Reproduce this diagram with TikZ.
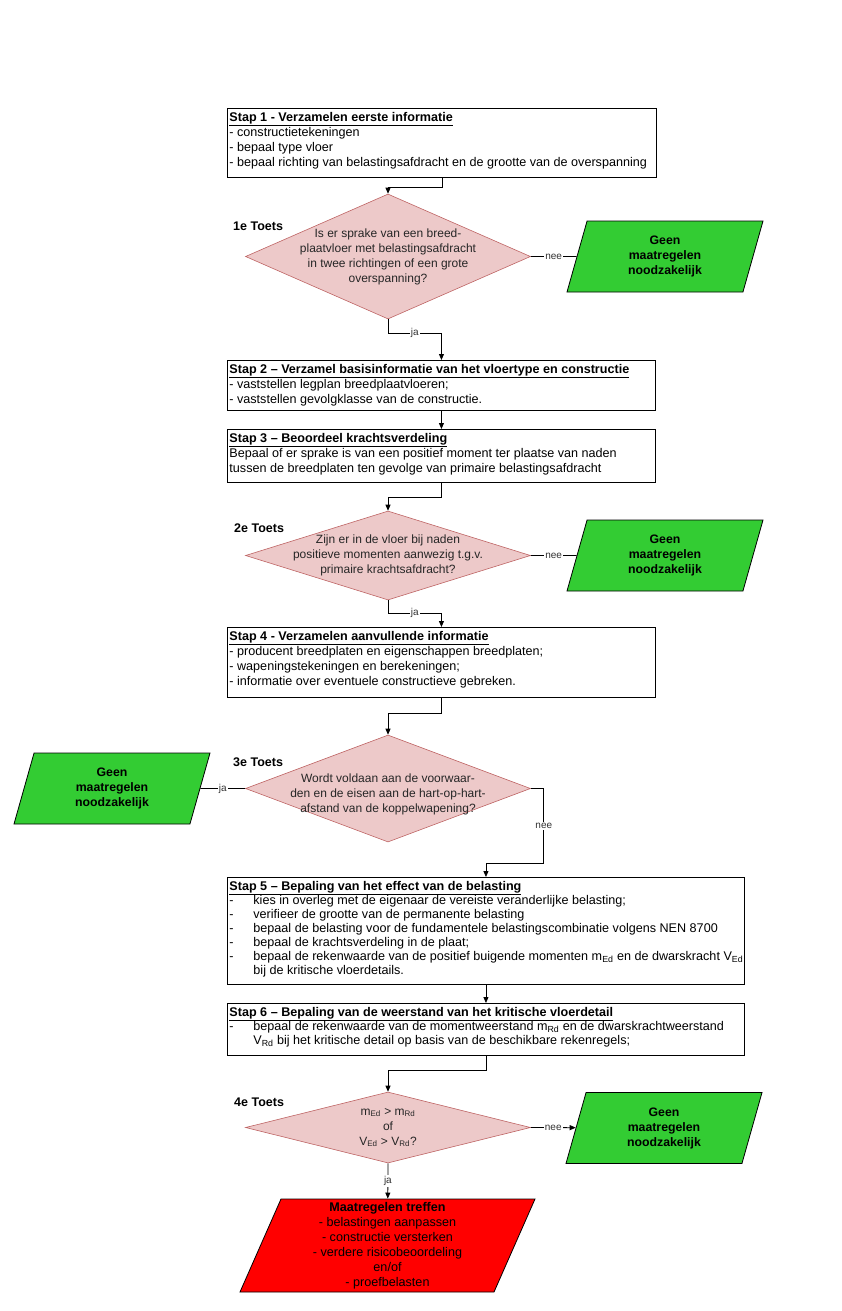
\documentclass[tikz,border=0pt]{standalone}
\usepackage{fontspec}
\setmainfont{Liberation Sans}
\usetikzlibrary{shapes.geometric,arrows.meta}

\definecolor{toetsvul}{RGB}{237,201,201}
\definecolor{toetsrand}{RGB}{190,100,100}
\definecolor{groen}{RGB}{51,204,51}
\definecolor{rood}{RGB}{255,0,0}

\newcommand\tekst{\fontsize{12.6}{15}\selectfont}
\newcommand\kop[1]{\underline{\textbf{#1}}}
\newcommand\streep[1]{\par\hangindent=24pt\hangafter=1\makebox[24pt][l]{-}#1}
\newcommand\inhoud[3]{\begin{minipage}[t][#2pt][t]{#1pt}\raggedright #3\end{minipage}}

\begin{document}
\begin{tikzpicture}[x=1pt,y=-1pt,
  stap/.style={draw, line width=0.9pt, anchor=north west, inner xsep=2pt, inner ysep=4pt, font=\tekst},
  toets/.style={diamond, draw=toetsrand, line width=0.6pt, fill=toetsvul, minimum width=285, minimum height=#1, inner sep=0pt},
  toetstekst/.style={align=center, font=\fontsize{12}{15}\selectfont, text=black!85},
  geen/.style={trapezium, trapezium left angle=64, trapezium right angle=116, trapezium stretches body,
    draw, line width=0.8pt, fill=groen, minimum width=196, minimum height=71, inner sep=0pt,
    align=center, font=\fontsize{12.3}{15}\selectfont\bfseries},
  naam/.style={anchor=west, inner sep=0pt, font=\fontsize{12.5}{14}\selectfont\bfseries},
  keuze/.style={fill=white, inner sep=1pt, font=\fontsize{10}{11}\selectfont, text=black!80},
  pijl/.style={-{Triangle[length=6pt,width=5pt]}, line width=0.8pt},
  lijn/.style={line width=0.8pt}]
\useasboundingbox (0,0) rectangle (841,1311);

% stappen
\node[stap] (stap1) at (227,108) {\inhoud{425}{61}{\kop{Stap 1 - Verzamelen eerste informatie}\\
  - constructietekeningen\\
  - bepaal type vloer\\
  - bepaal richting van belastingsafdracht en de grootte van de overspanning}};
\node[stap] (stap2) at (227,360) {\inhoud{424}{42}{\kop{Stap 2 – Verzamel basisinformatie van het vloertype en constructie}\\
  - vaststellen legplan breedplaatvloeren;\\
  - vaststellen gevolgklasse van de constructie.}};
\node[stap] (stap3) at (227,429) {\inhoud{424}{45}{\kop{Stap 3 – Beoordeel krachtsverdeling}\\
  Bepaal of er sprake is van een positief moment ter plaatse van naden\\
  tussen de breedplaten ten gevolge van primaire belastingsafdracht}};
\node[stap] (stap4) at (227,627) {\inhoud{424}{62}{\kop{Stap 4 - Verzamelen aanvullende informatie}\\
  - producent breedplaten en eigenschappen breedplaten;\\
  - wapeningstekeningen en berekeningen;\\
  - informatie over eventuele constructieve gebreken.}};
\node[stap, font=\fontsize{12.6}{14}\selectfont] (stap5) at (227,877) {\inhoud{513}{99}{\kop{Stap 5 – Bepaling van het effect van de belasting}
  \streep{kies in overleg met de eigenaar de vereiste veranderlijke belasting;}
  \streep{verifieer de grootte van de permanente belasting}
  \streep{bepaal de belasting voor de fundamentele belastingscombinatie volgens NEN 8700}
  \streep{bepaal de krachtsverdeling in de plaat;}
  \streep{\mbox{bepaal de rekenwaarde van de positief buigende momenten m\textsubscript{Ed} en de dwarskracht V\textsubscript{Ed}}\newline
    bij de kritische vloerdetails.}}};
\node[stap, font=\fontsize{12.6}{14}\selectfont] (stap6) at (227,1003) {\inhoud{513}{44}{\kop{Stap 6 – Bepaling van de weerstand van het kritische vloerdetail}
  \streep{\mbox{bepaal de rekenwaarde van de momentweerstand m\textsubscript{Rd} en de dwarskrachtweerstand}\newline
    V\textsubscript{Rd} bij het kritische detail op basis van de beschikbare rekenregels;}}};

% toetsen
\node[toets=125, label={[toetstekst]center:Is er sprake van een breed-\\plaatvloer met belastingsafdracht\\in twee richtingen of een grote\\overspanning?}] (toets1) at (388,256.5) {};
\node[toets=89, label={[toetstekst]center:Zijn er in de vloer bij naden\\positieve momenten aanwezig t.g.v.\\primaire krachtsafdracht?}] (toets2) at (388,555.5) {};
\node[toets=107, label={[toetstekst, yshift=-6pt]center:Wordt voldaan aan de voorwaar-\\den en de eisen aan de hart-op-hart-\\afstand van de koppelwapening?}] (toets3) at (388,788.5) {};
\node[toets=71, label={[toetstekst]center:m\textsubscript{Ed} > m\textsubscript{Rd}\\of\\V\textsubscript{Ed} > V\textsubscript{Rd}?}] (toets4) at (388,1127.5) {};

\node[naam] (naam1) at (233,226) {1e Toets};
\node[naam] (naam2) at (234,528) {2e Toets};
\node[naam] (naam3) at (233,762) {3e Toets};
\node[naam] (naam4) at (234,1102) {4e Toets};

% uitkomsten
\node[geen] (geen1) at (665,256.5) {Geen\\maatregelen\\noodzakelijk};
\node[geen] (geen2) at (665,555.5) {Geen\\maatregelen\\noodzakelijk};
\node[geen] (geen3) at (112,788.5) {Geen\\maatregelen\\noodzakelijk};
\node[geen] (geen4) at (664,1128) {Geen\\maatregelen\\noodzakelijk};
\node[geen, fill=rood, trapezium left angle=64.7, trapezium right angle=115.3, minimum width=295, minimum height=93,
  font=\tekst] (maatregelen) at (387.5,1245.5) {\textbf{Maatregelen treffen}\\- belastingen aanpassen\\- constructie versterken\\- verdere risicobeoordeling\\en/of\\- proefbelasten};

% verbindingen
\draw[pijl] (stap1.south) -- ++(0,9) -| (toets1.north);
\draw[lijn] (toets1.east) -- node[keuze]{nee} (geen1);
\draw[pijl] (toets1.south) -- ++(0,14) -| node[keuze, pos=0.25]{ja} (stap2.north);
\draw[pijl] (stap2.south) -- (stap3.north);
\draw[pijl] (stap3.south) -- ++(0,14) -| (toets2.north);
\draw[lijn] (toets2.east) -- node[keuze]{nee} (geen2);
\draw[pijl] (toets2.south) -- ++(0,13) -| node[keuze, pos=0.25]{ja} (stap4.north);
\draw[pijl] (stap4.south) -- ++(0,15) -| (toets3.north);
\draw[lijn] (toets3.west) -- node[keuze]{ja} (geen3);
\draw[pijl] (toets3.east) -- ++(13,0) -- node[keuze]{nee} ++(0,75) -| (stap5.north);
\draw[pijl] (stap5.south) -- (stap6.north);
\draw[pijl] (stap6.south) -- ++(0,14) -| (toets4.north);
\draw[pijl] (toets4.east) -- node[keuze]{nee} (geen4);
\draw[pijl] (toets4.south) -- node[keuze]{ja} (maatregelen);
\end{tikzpicture}
\end{document}
